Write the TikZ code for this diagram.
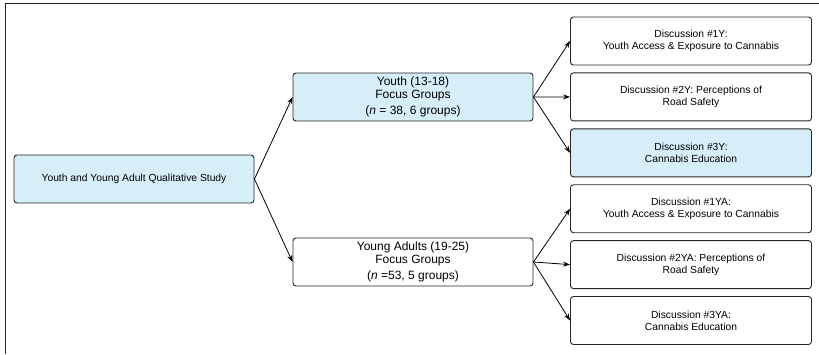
\documentclass[tikz,border=0pt]{standalone}
\usepackage{fontspec}
\setmainfont{Liberation Sans}
\usepackage{xcolor}
\usetikzlibrary{arrows.meta,positioning}
\definecolor{paleblue}{HTML}{D6EEF8}

\begin{document}
\begin{tikzpicture}[x=1pt,y=-1pt,font=\fontsize{10.3}{12}\selectfont,
  box/.style={draw=black!85,line width=0.9pt,rounded corners=3pt,align=center,inner sep=2pt,minimum width=240pt,minimum height=48pt},
  grp/.style={box,font=\fontsize{12}{12.5}\selectfont},
  hi/.style={fill=paleblue},
  arr/.style={-{Stealth[length=7pt,width=5pt]},line width=0.8pt}]
\useasboundingbox (0,0) rectangle (819,354);
\draw[line width=1pt,black!85] (5,354) -- (5,3) -- (819,3);
\node[box,hi] (study) at (134,179) {Youth and Young Adult Qualitative Study};
\node[grp,hi] (youth) at (413,97) {Youth (13-18)\\ Focus Groups\\[4pt] (\textit{n} = 38, 6 groups)};
\node[grp] (adults) at (413,262) {Young Adults (19-25)\\ Focus Groups\\[4pt] (\textit{n} =53, 5 groups)};
\node[box,minimum width=241pt] (d1y) at (691,41) {Discussion \#1Y:\\ Youth Access \& Exposure to Cannabis};
\node[box,minimum width=241pt,below=7pt of d1y] (d2y) {Discussion \#2Y: Perceptions of\\ Road Safety};
\node[box,hi,minimum width=241pt,below=7pt of d2y] (d3y) {Discussion \#3Y:\\ Cannabis Education};
\node[box,minimum width=241pt,below=7pt of d3y] (d1ya) {Discussion \#1YA:\\ Youth Access \& Exposure to Cannabis};
\node[box,minimum width=241pt,below=7pt of d1ya] (d2ya) {Discussion \#2YA: Perceptions of\\ Road Safety};
\node[box,minimum width=241pt,below=7pt of d2ya] (d3ya) {Discussion \#3YA:\\ Cannabis Education};
\draw[arr] (study.east) -- (youth.west);
\draw[arr] (study.east) -- (adults.west);
\foreach \d in {d1y,d2y,d3y}
  \draw[arr] (youth.east) -- (\d.west);
\foreach \d in {d1ya,d2ya,d3ya}
  \draw[arr] (adults.east) -- (\d.west);
\end{tikzpicture}
\end{document}
